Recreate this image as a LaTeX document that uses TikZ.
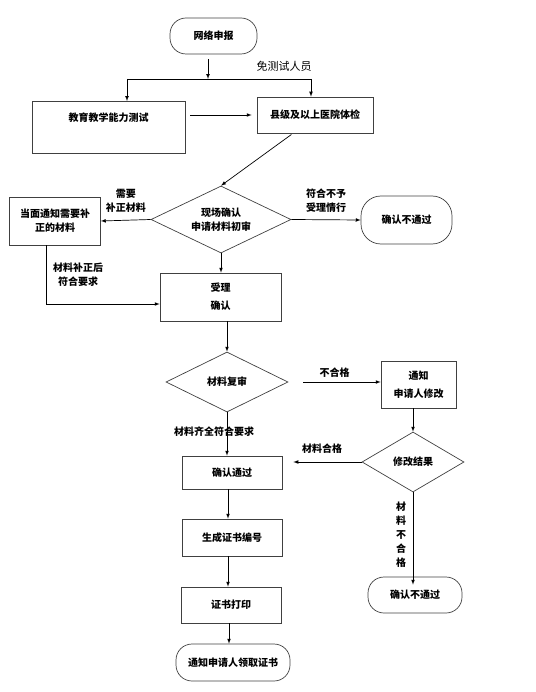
\documentclass[tikz,border=0pt]{standalone}
\usepackage{fontspec}
\setmainfont{Noto Sans CJK SC}
\usepackage{tikz}
\usetikzlibrary{arrows,positioning,shapes.geometric}
\tikzset{
  stepbox/.style={draw=black!75, line width=0.7pt, rectangle, inner sep=0pt,
    font=\bfseries\fontsize{10}{14}\selectfont, align=center},
  endbox/.style={stepbox, rounded corners=16pt},
  checkbox/.style={draw=black!75, line width=0.7pt, diamond, inner sep=0pt,
    font=\bfseries\fontsize{10}{14}\selectfont, align=center},
  note/.style={inner sep=1pt, font=\bfseries\fontsize{10}{14}\selectfont, align=center}
}
\begin{document}
\begin{tikzpicture}[x=1pt,y=-1pt,>=latex,line width=0.7pt]
\useasboundingbox (0,0) rectangle (535,692);
\node[endbox, minimum width=87pt, minimum height=36pt] (apply) at (213.5,36) {网络申报};
\node[stepbox, anchor=north, minimum width=153pt, text height=20pt, text depth=32pt] (test) at (108.5,101) {教育教学能力测试};
\node[stepbox, minimum width=116pt, minimum height=36pt] (exam) at (315,115) {县级及以上医院体检};
\node[checkbox, aspect=2.1, minimum width=140pt, minimum height=67pt] (firstcheck) at (221,219.5) {现场确认\\申请材料初审};
\node[stepbox, minimum width=91pt, minimum height=48pt] (amend) at (55,221) {当面通知需要补\\正的材料};
\node[endbox, minimum width=91pt, minimum height=48pt, rounded corners=20pt] (refuse) at (406.5,220) {确认不通过};
\node[stepbox, minimum width=121pt, minimum height=48pt] (accept) at (220.5,297) {受理\\[4pt]确认};
\node[checkbox, aspect=2, minimum width=122pt, minimum height=60pt] (recheck) at (227,382) {材料复审};
\node[stepbox, minimum width=75pt, minimum height=47pt] (notify) at (418.5,384.5) {通知\\[4pt]申请人修改};
\node[checkbox, aspect=1.7, minimum width=102pt, minimum height=60pt] (result) at (413,462) {修改结果};
\node[stepbox, minimum width=100pt, minimum height=33pt] (pass) at (232,472.5) {确认通过};
\node[stepbox, minimum width=100pt, minimum height=37pt] (number) at (232,537.5) {生成证书编号};
\node[stepbox, minimum width=100pt, minimum height=36pt] (print) at (231,605) {证书打印};
\node[endbox, minimum width=114pt, minimum height=37pt] (collect) at (233,662.5) {通知申请人领取证书};
\node[endbox, minimum width=94pt, minimum height=36pt] (reject) at (415,595) {确认不通过};
\coordinate (split) at (208,79);
\coordinate (splitl) at (127,79);
\coordinate (splitr) at (311,79);
\coordinate (back) at (46,304);
\draw[->,shorten <=5pt] (split |- apply.south) -- (split);
\draw (splitl) -- (splitr);
\draw[->] (splitl) -- (splitl |- test.north);
\draw[->] (splitr) -- (splitr |- exam.north);
\node[inner sep=0pt, font=\fontsize{11}{13}\selectfont] (free) at (284,66) {免测试人员};
\path[->,shorten <=5pt,shorten >=5pt] (test.east |- exam) edge (exam.west);
\draw[->,shorten <=2pt] ([xshift=-22pt]exam.south) -- (firstcheck.north);
\path[->] (firstcheck.west) edge node[note, above=6pt]{需要\\补正材料} (amend.east);
\path[->] (firstcheck.east) edge node[note, above=6pt]{符合不予\\受理情行} (refuse.west);
\draw[->] (firstcheck.south) -- (firstcheck.south |- accept.north);
\draw[->] (amend.south -| back) -- (back) -- (accept.west |- back);
\node[note] (amendok) at (78,275) {材料补正后\\符合要求};
\draw[->] (recheck.north |- accept.south) -- (recheck.north);
\path[->,shorten <=15pt] (recheck.east) edge node[note, above=3pt]{不合格} (notify.west |- recheck.east);
\draw[->] (result.north |- notify.south) -- (result.north);
\path[->,shorten >=11pt] (result.west) edge node[note, above=7pt]{材料合格} (pass.east |- result.west);
\draw[->] (recheck.south) -- (recheck.south |- pass.north);
\node[note] (allok) at (214,432) {材料齐全符合要求};
\draw[->] (228,489) coordinate (p1) -- (p1 |- number.north);
\draw[->] (228,556) coordinate (p2) -- (p2 |- print.north);
\draw[->] (229,623) coordinate (p3) -- (p3 |- collect.north);
\draw[->] (result.south) -- ([yshift=-8pt]result.south |- reject.north);
\node[note, font=\bfseries\fontsize{10}{14}\selectfont] (failed) at (401,535) {材\\料\\不\\合\\格};
\end{tikzpicture}
\end{document}
